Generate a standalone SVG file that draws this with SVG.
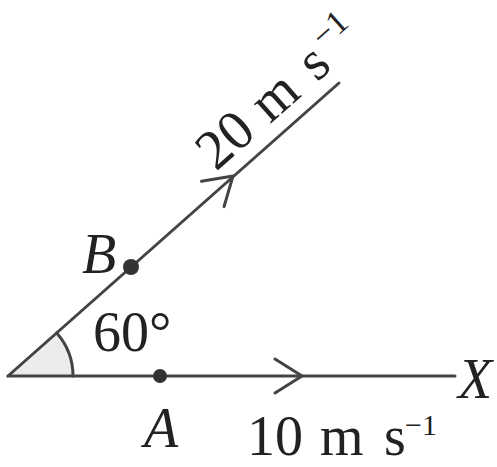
<svg xmlns="http://www.w3.org/2000/svg" xmlns:xlink="http://www.w3.org/1999/xlink" width="497" height="467" viewBox="0 0 497 467">
<style>
.ln{stroke:#444;stroke-width:3;fill:none;stroke-linecap:round;stroke-linejoin:round}
.t{font-family:"Liberation Serif","Times New Roman",serif;font-size:56px;fill:#222}
.it{font-style:italic}
.dot{fill:#333}
</style>
<defs>
<path id="chev" d="M-27,-17 L0,0 L-27,17" class="ln"/>
</defs>
<rect width="497" height="467" fill="#fff"/>
<g id="angle">
<path d="M8,376 L73,376 A65,65 0 0 0 56.7,332.9 Z" fill="#ececec"/>
<path d="M73,376 A65,65 0 0 0 56.7,332.9" class="ln"/>
<text class="t" x="93" y="351">60°</text>
</g>
<g id="connectors">
<line x1="8" y1="376" x2="455" y2="376" class="ln"/>
<line x1="8" y1="376" x2="339" y2="83" class="ln"/>
<use xlink:href="#chev" transform="translate(302,376)"/>
<use xlink:href="#chev" transform="translate(233,176) rotate(-41.5)"/>
</g>
<g id="A">
<circle cx="160" cy="376" r="7" class="dot"/>
<text class="t it" x="144" y="447">A</text>
</g>
<g id="B">
<circle cx="131" cy="267" r="8" class="dot"/>
<text class="t it" x="82" y="273">B</text>
</g>
<g id="X">
<text class="t it" x="458" y="398">X</text>
</g>
<g id="v10">
<text class="t" font-size="52"><tspan x="247" y="455">10</tspan><tspan x="320" y="455">m</tspan><tspan x="384" y="455">s</tspan><tspan x="405" y="435" font-size="30">−1</tspan></text>
</g>
<g id="v20" transform="translate(216,172) rotate(-41.5)">
<text class="t"><tspan x="0" y="0">20</tspan><tspan x="72" y="0">m</tspan><tspan x="135" y="0">s</tspan><tspan x="162" y="-21" font-size="34">−1</tspan></text>
</g>
</svg>
